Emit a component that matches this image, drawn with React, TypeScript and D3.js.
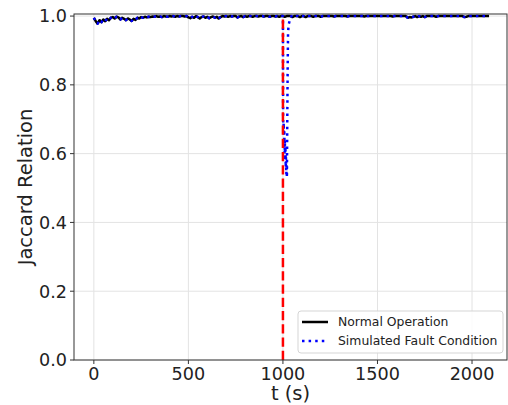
import React from "react";
import * as d3 from "d3";

// Sampling grid for both series (seconds)
const T_START = 0;
const T_STEP = 10;

// Normal operation Jaccard values, every 10 s from t = 0
const normalValues: number[] = [
  0.995, 0.985, 0.978, 0.988, 0.982, 0.99, 0.985, 0.992, 0.988, 0.995,
  0.997, 0.993, 0.998, 0.996, 0.99, 0.995, 0.992, 0.988, 0.993, 0.99,
  0.986, 0.992, 0.989, 0.995, 0.993, 0.997, 0.995, 0.998, 0.996, 0.998,
  0.997, 0.999, 0.998, 1.0, 0.998, 0.999, 0.997, 1.0, 0.999, 0.998,
  1.0, 0.999, 1.0, 0.998, 1.0, 0.999, 1.0, 1.0, 0.999, 1.0,
  0.996, 0.994, 0.998, 0.995, 1.0, 0.997, 0.993, 0.997, 0.999, 0.995,
  0.998, 0.994, 0.997, 0.999, 0.995, 0.998, 0.993, 0.997, 1.0, 0.999,
  1.0, 0.998, 1.0, 0.999, 1.0, 1.0, 0.996, 0.999, 1.0, 0.997,
  1.0, 0.998, 1.0, 1.0, 0.998, 1.0, 1.0, 0.999, 1.0, 1.0,
  0.999, 1.0, 1.0, 0.998, 1.0, 1.0, 0.999, 1.0, 0.998, 1.0,
  1.0, 0.998, 1.0, 1.0, 1.0, 0.997, 1.0, 1.0, 1.0, 0.997,
  1.0, 1.0, 0.997, 1.0, 1.0, 1.0, 0.998, 1.0, 1.0, 1.0,
  0.998, 1.0, 1.0, 1.0, 1.0, 1.0, 1.0, 0.999, 1.0, 1.0,
  1.0, 1.0, 1.0, 1.0, 0.999, 1.0, 1.0, 1.0, 1.0, 1.0,
  1.0, 1.0, 1.0, 0.999, 1.0, 1.0, 1.0, 1.0, 1.0, 1.0,
  1.0, 1.0, 1.0, 1.0, 1.0, 1.0, 1.0, 1.0, 0.999, 1.0,
  1.0, 1.0, 1.0, 1.0, 1.0, 1.0, 0.995, 0.997, 0.996, 0.998,
  1.0, 0.997, 1.0, 0.998, 1.0, 0.997, 1.0, 1.0, 1.0, 1.0,
  1.0, 0.998, 1.0, 1.0, 1.0, 1.0, 1.0, 1.0, 1.0, 1.0,
  1.0, 1.0, 1.0, 1.0, 1.0, 1.0, 0.997, 0.998, 1.0, 1.0,
  1.0, 1.0, 1.0, 1.0, 1.0, 1.0, 1.0, 1.0, 1.0, 1.0,
];

// Simulated fault window (explicit samples), outside it the fault series equals normal
const faultTimes: number[] = [
  1000, 1001, 1003, 1004, 1006, 1007, 1009, 1010, 1012, 1013, 1015, 1016,
  1018, 1019, 1021, 1023, 1025, 1027, 1030, 1035, 1040, 1045,
];
const faultValues: number[] = [
  1.0, 0.7, 0.66, 0.69, 0.63, 0.67, 0.6, 0.64, 0.58, 0.62, 0.56, 0.59,
  0.54, 0.57, 0.53, 0.7, 0.85, 0.95, 0.975, 0.985, 0.995, 1.0,
];

const FAULT_TIME = 1000;
const xTicks = [0, 500, 1000, 1500, 2000];
const yTicks = [0, 0.2, 0.4, 0.6, 0.8, 1.0];
const legendLabels = ["Normal Operation", "Simulated Fault Condition"];

const W = 508;
const H = 405;
const M = { left: 74, right: 507, top: 14, bottom: 360 };
const FONT = "DejaVu Sans, sans-serif";

export default function App() {
  const normal: [number, number][] = normalValues.map((v, i) => [T_START + i * T_STEP, v]);
  const fStart = faultTimes[0];
  const fEnd = faultTimes[faultTimes.length - 1];
  const fault: [number, number][] = [
    ...normal.filter((d) => d[0] < fStart),
    ...faultTimes.map((t, i) => [t, faultValues[i]] as [number, number]),
    ...normal.filter((d) => d[0] > fEnd),
  ];

  const tMax = normal[normal.length - 1][0];
  const pad = 0.05 * tMax;
  const x = d3.scaleLinear().domain([-105, 2185]).range([M.left, M.right]);
  const y = d3.scaleLinear().domain([0, 1.006]).range([M.bottom, M.top]);
  void pad;

  const line = d3
    .line<[number, number]>()
    .x((d) => x(d[0]))
    .y((d) => y(d[1]));

  const axisColor = "#333";
  const gridColor = "#e3e3e3";

  return (
    <svg
      width={W}
      height={H}
      style={{ position: "absolute", left: 0, top: 0, background: "#fff" }}
      fontFamily={FONT}
    >
      <rect x={0} y={0} width={W} height={H} fill="#fff" />
      {/* grid */}
      {xTicks.map((t) => (
        <line key={"gx" + t} x1={x(t)} x2={x(t)} y1={M.top} y2={M.bottom} stroke={gridColor} strokeWidth={1} />
      ))}
      {yTicks.map((t) => (
        <line key={"gy" + t} x1={M.left} x2={M.right} y1={y(t)} y2={y(t)} stroke={gridColor} strokeWidth={1} />
      ))}

      {/* series */}
      <path d={line(normal) || ""} fill="none" stroke="#000" strokeWidth={2.5} strokeLinejoin="round" />
      <path
        d={line(fault) || ""}
        fill="none"
        stroke="#0000ff"
        strokeWidth={2.5}
        strokeDasharray="2.5,4.1"
        strokeLinejoin="round"
      />
      <line
        x1={x(FAULT_TIME)}
        x2={x(FAULT_TIME)}
        y1={y(0)}
        y2={y(1)}
        stroke="#ff0000"
        strokeWidth={2.5}
        strokeDasharray="9.25,4"
      />

      {/* spines */}
      <rect
        x={M.left}
        y={M.top}
        width={M.right - M.left}
        height={M.bottom - M.top}
        fill="none"
        stroke={axisColor}
        strokeWidth={1}
      />

      {/* x ticks */}
      {xTicks.map((t) => (
        <g key={"xt" + t}>
          <line x1={x(t)} x2={x(t)} y1={M.bottom} y2={M.bottom + 4} stroke={axisColor} />
          <text x={x(t)} y={380} textAnchor="middle" fontSize={17.6} fill="#222">
            {t}
          </text>
        </g>
      ))}
      {/* y ticks */}
      {yTicks.map((t) => (
        <g key={"yt" + t}>
          <line x1={M.left - 4} x2={M.left} y1={y(t)} y2={y(t)} stroke={axisColor} />
          <text x={67} y={y(t)} dy="0.36em" textAnchor="end" fontSize={17.6} fill="#222">
            {t.toFixed(1)}
          </text>
        </g>
      ))}

      {/* axis labels */}
      <text x={(M.left + M.right) / 2} y={400} textAnchor="middle" fontSize={19.5} fill="#222">
        t (s)
      </text>
      <text
        transform={`translate(32, ${(M.top + M.bottom) / 2}) rotate(-90)`}
        textAnchor="middle"
        fontSize={19.5}
        fill="#222"
      >
        Jaccard Relation
      </text>

      {/* legend */}
      <g>
        <rect x={298} y={311} width={205} height={42} rx={3} fill="#fff" fillOpacity={0.85} stroke="#d5d5d5" />
        <line x1={302} x2={328} y1={322} y2={322} stroke="#000" strokeWidth={2.5} />
        <line x1={302} x2={328} y1={341} y2={341} stroke="#0000ff" strokeWidth={2.5} strokeDasharray="2.5,4.1" />
        <text x={338} y={322} dy="0.36em" fontSize={12.4} fill="#222">
          {legendLabels[0]}
        </text>
        <text x={338} y={341} dy="0.36em" fontSize={12.4} fill="#222">
          {legendLabels[1]}
        </text>
      </g>
    </svg>
  );
}
